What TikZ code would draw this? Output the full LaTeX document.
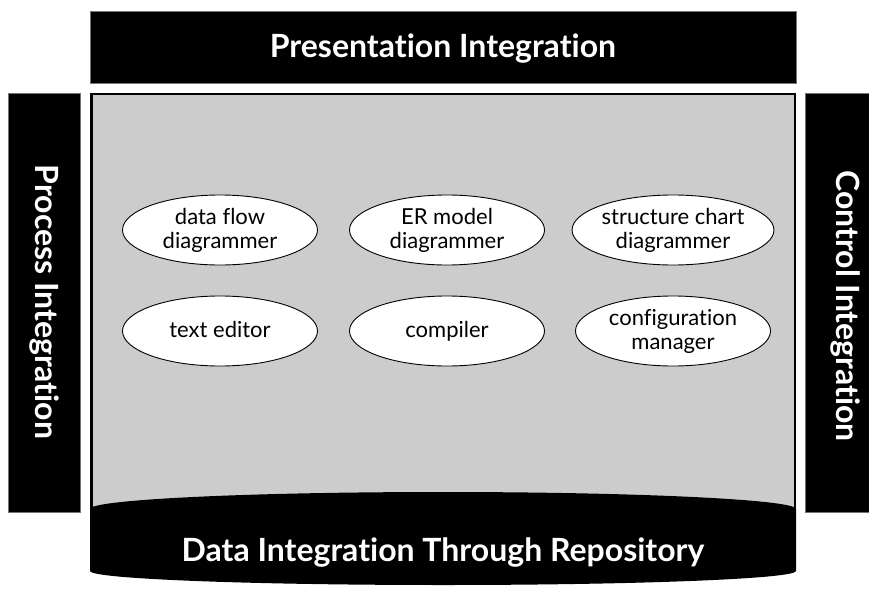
\documentclass[tikz,border=0pt]{standalone}
\usepackage{fontspec}
\setmainfont{Lato}[Ligatures=NoCommon]
\usetikzlibrary{shapes.geometric}
\definecolor{panelgray}{RGB}{204,204,204}
\begin{document}
\begin{tikzpicture}[x=1pt,y=-1pt,
  bar/.style={fill=black, draw=black!55, line width=0.6pt},
  bartext/.style={text=white, font=\bfseries\fontsize{32}{36}\selectfont, inner sep=0pt},
  tool/.style={ellipse, draw=black, line width=0.9pt, fill=white,
    minimum width=195pt, minimum height=70pt, inner sep=0pt, align=center,
    font=\fontsize{22}{24}\selectfont}]
\useasboundingbox (0,0) rectangle (869,591);
\fill[white] (0,0) rectangle (869,591);
% top, left and right bars
\draw[bar] (90,11) rectangle (796,83);
\draw[bar] (8,93) rectangle (80,512);
\draw[bar] (805,93) rectangle (875,512);
\node[bartext, anchor=base] (pres) at (443,58) {Presentation Integration};
\node[bartext, rotate=-90] (proc) at (44,302) {Process Integration};
\node[bartext, rotate=-90] (ctrl) at (845,306) {Control Integration};
% grey panel
\draw[fill=panelgray, line width=2.5pt] (91.25,94.25) rectangle (794.75,530);
% repository cylinder
\fill[black] (90,509) arc[start angle=180, end angle=360, x radius=353, y radius=17]
  -- (796,571) arc[start angle=0, end angle=180, x radius=353, y radius=14] -- cycle;
\node[bartext, anchor=base] (data) at (443,561) {Data Integration Through Repository};
% tools
\node[tool] (dfd) at (220,230) {data flow\\diagrammer};
\node[tool] (erd) at (447,230) {ER model\\diagrammer};
\node[tool] (scd) at (673,230) {structure chart\\diagrammer};
\node[tool] (ted) at (220,331) {text editor\vphantom{dp}};
\node[tool] (cmp) at (447,331) {compiler\vphantom{dp}};
\node[tool] (cfg) at (673,331) {configuration\\manager};
\end{tikzpicture}
\end{document}
